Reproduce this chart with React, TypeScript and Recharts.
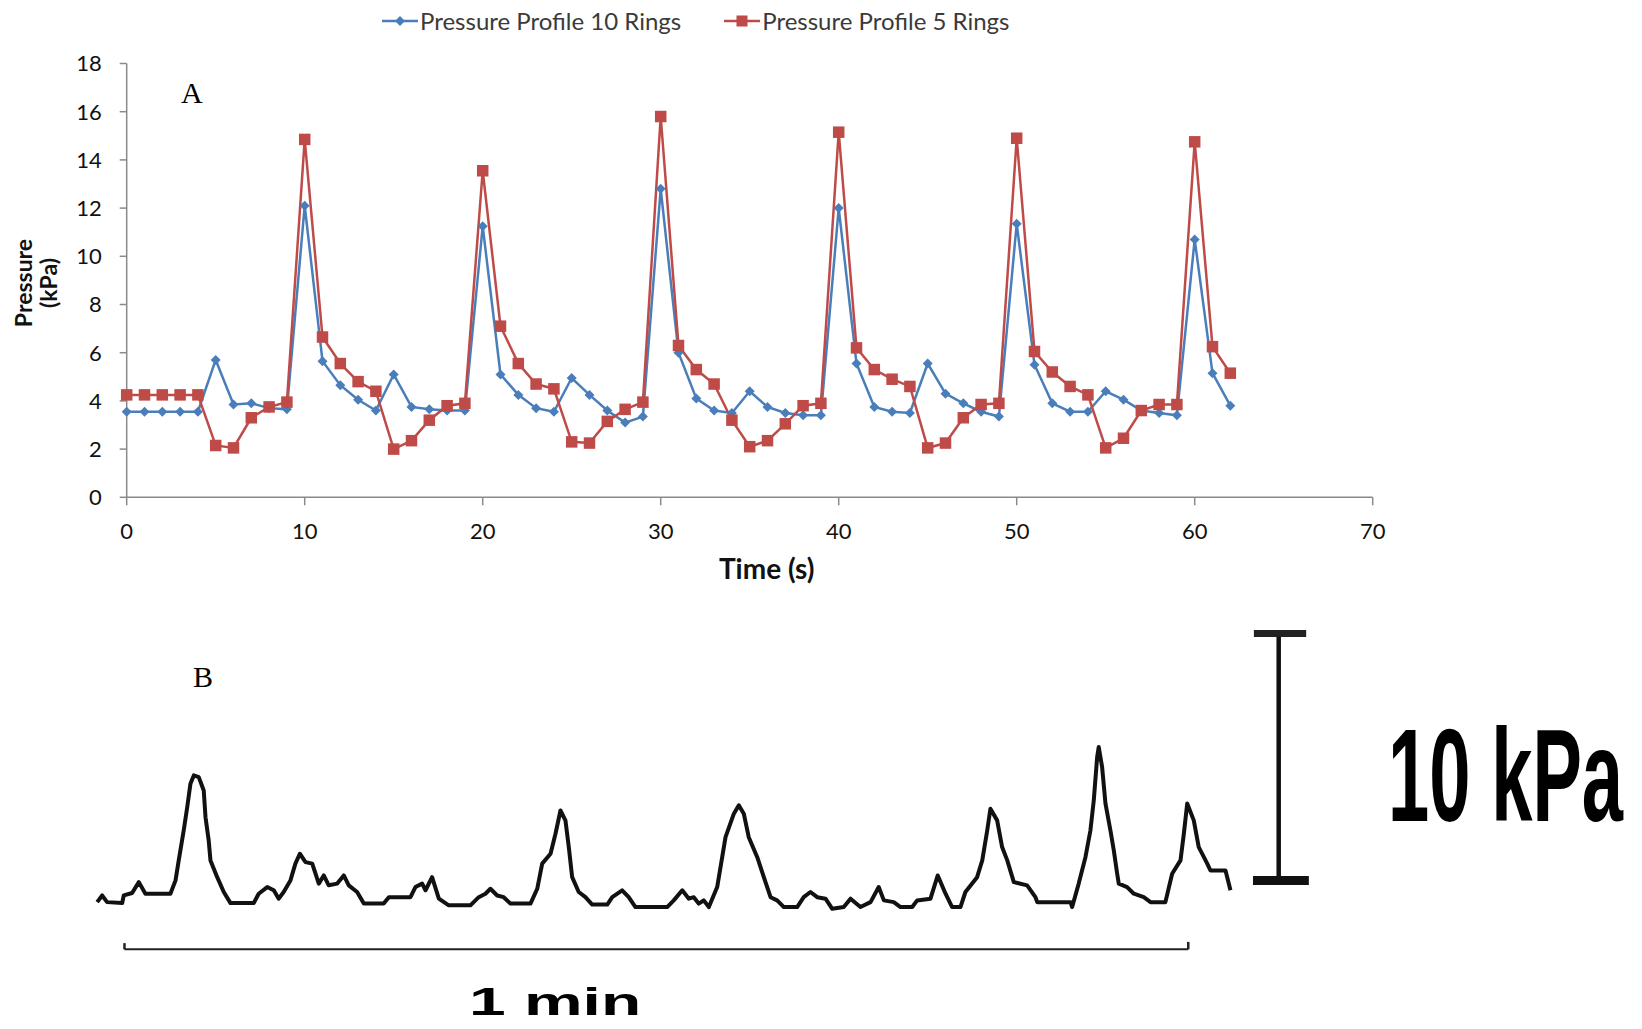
import React from "react";
import { LineChart, Line, XAxis, YAxis, Label, ReferenceLine } from "recharts";

// ---- panel A : pressure profiles (s, kPa)
const TIME_S = [
  0, 1, 2, 3, 4, 5, 6, 7, 8, 9, 10, 11, 12, 13, 14, 15, 16, 17, 18, 19, 20,
  21, 22, 23, 24, 25, 26, 27, 28, 29, 30, 31, 32, 33, 34, 35, 36, 37, 38, 39,
  40, 41, 42, 43, 44, 45, 46, 47, 48, 49, 50, 51, 52, 53, 54, 55, 56, 57, 58,
  59, 60, 61, 62,
];
const RINGS_10 = [
  3.55, 3.55, 3.55, 3.55, 3.55, 5.7, 3.85, 3.9, 3.7, 3.65, 12.1, 5.65, 4.65,
  4.05, 3.6, 5.1, 3.75, 3.65, 3.6, 3.6, 11.25, 5.1, 4.25, 3.7, 3.55, 4.95, 4.25,
  3.6, 3.1, 3.35, 12.8, 6.0, 4.1, 3.6, 3.5, 4.4, 3.75, 3.5, 3.4, 3.4, 12.0,
  5.55, 3.75, 3.55, 3.5, 5.55, 4.3, 3.9, 3.55, 3.35, 11.35, 5.5, 3.9, 3.55,
  3.55, 4.4, 4.05, 3.6, 3.5, 3.4, 10.7, 5.15, 3.8,
];
const RINGS_5 = [
  4.25, 4.25, 4.25, 4.25, 4.25, 2.15, 2.05, 3.3, 3.75, 3.95, 14.85, 6.65, 5.55,
  4.8, 4.4, 2.0, 2.35, 3.2, 3.8, 3.9, 13.55, 7.1, 5.55, 4.7, 4.5, 2.3, 2.25,
  3.15, 3.65, 3.95, 15.8, 6.3, 5.3, 4.7, 3.2, 2.1, 2.35, 3.05, 3.8, 3.9, 15.15,
  6.2, 5.3, 4.9, 4.6, 2.05, 2.25, 3.3, 3.85, 3.9, 14.9, 6.05, 5.2, 4.6, 4.25,
  2.05, 2.45, 3.6, 3.85, 3.85, 14.75, 6.25, 5.15,
];
const X_TICKS = [0, 10, 20, 30, 40, 50, 60, 70];
const Y_TICKS = [0, 2, 4, 6, 8, 10, 12, 14, 16, 18];

// ---- panel B : recorded trace (s from start of the 1 min bar, kPa above bar base)
const TRACE_T = [
  -1.54, -1.26, -0.98, -0.13, -0.04, 0.43, 0.81, 1.18, 2.59, 2.88, 3.06, 3.34,
  3.54, 3.72, 3.91, 4.19, 4.47, 4.57, 4.75, 4.85, 5.23, 5.6, 5.98, 7.29, 7.57,
  8.05, 8.42, 8.7, 8.98, 9.36, 9.64, 9.89, 10.21, 10.59, 10.96, 11.24, 11.52,
  12.0, 12.37, 12.65, 13.12, 13.5, 14.62, 14.91, 16.13, 16.41, 16.79, 16.98,
  17.35, 17.73, 18.29, 19.51, 19.98, 20.36, 20.64, 21.02, 21.39, 21.77, 22.9,
  23.28, 23.56, 24.03, 24.31, 24.59, 24.87, 25.06, 25.25, 25.62, 26.0, 26.38,
  27.23, 27.51, 28.07, 28.44, 28.82, 30.61, 30.98, 31.46, 31.83, 32.11, 32.39,
  32.67, 32.96, 33.43, 33.9, 34.37, 34.65, 34.93, 35.21, 35.69, 36.06, 36.44,
  36.81, 37.19, 37.94, 38.31, 38.69, 39.07, 39.54, 39.92, 40.57, 40.95, 41.51,
  42.08, 42.54, 42.83, 43.39, 43.77, 44.43, 44.71, 45.46, 45.87, 46.31, 46.68,
  47.15, 47.43, 48.09, 48.38, 48.66, 48.84, 49.22, 49.5, 49.79, 50.16, 50.91,
  51.38, 51.48, 53.36, 53.45, 53.82, 54.2, 54.48, 54.67, 54.86, 54.95, 55.14,
  55.33, 55.61, 55.8, 55.99, 56.08, 56.55, 56.93, 57.49, 57.87, 58.71, 59.09,
  59.56, 59.75, 59.94, 60.31, 60.59, 61.07, 61.25, 62.1, 62.38,
];
const TRACE_KPA = [
  -0.88, -0.61, -0.88, -0.92, -0.61, -0.51, -0.07, -0.54, -0.54, 0, 0.81, 2.02,
  2.97, 3.91, 4.25, 4.18, 3.64, 2.56, 1.62, 0.81, 0.13, -0.47, -0.92, -0.92,
  -0.54, -0.27, -0.4, -0.74, -0.47, 0, 0.68, 1.08, 0.74, 0.68, -0.13, 0.2, -0.2,
  -0.13, 0.2, -0.2, -0.47, -0.94, -0.94, -0.68, -0.68, -0.27, -0.13, -0.4, 0.13,
  -0.74, -1.01, -1.01, -0.68, -0.54, -0.34, -0.61, -0.68, -0.94, -0.94, -0.34,
  0.68, 1.08, 1.89, 2.83, 2.43, 1.35, 0.13, -0.47, -0.68, -0.98, -0.98, -0.68,
  -0.4, -0.68, -1.08, -1.08, -0.81, -0.4, -0.74, -0.68, -0.94, -0.81, -1.08,
  -0.27, 1.75, 2.7, 3.04, 2.7, 1.75, 0.94, 0.13, -0.68, -0.81, -1.08, -1.08,
  -0.68, -0.47, -0.68, -0.74, -1.15, -1.08, -0.74, -1.08, -0.88, -0.27, -0.81,
  -0.88, -1.08, -1.08, -0.81, -0.74, 0.2, -0.54, -1.08, -1.08, -0.47, 0.13,
  0.81, 2.02, 2.9, 2.43, 1.35, 0.81, -0.07, -0.2, -0.68, -0.88, -0.88, -1.08,
  -0.13, 0.94, 2.02, 3.24, 4.99, 5.4, 4.59, 3.11, 2.02, 1.21, 0.27, -0.13,
  -0.27, -0.54, -0.68, -0.88, -0.88, 0.27, 0.81, 1.89, 3.11, 2.43, 1.35, 0.68,
  0.4, 0.4, -0.4,
];
const MIN_BAR = [0, 60]; // 1 min
const MIN_BAR_LEVEL = -2.79;
const KPA_BAR = [0, 10]; // 10 kPa
const KPA_BAR_AT = 65.1;

const BLUE = "#4a7ebb";
const RED = "#be4b48";
const AXIS = "#8a8a8a";

const topData = TIME_S.map((t, i) => ({ t, r10: RINGS_10[i], r5: RINGS_5[i] }));
const traceData = TRACE_T.map((t, i) => ({ t, p: TRACE_KPA[i] }));

function DiamondDot(props: any) {
  const { cx, cy, index } = props;
  if (cx == null || cy == null) return <g key={`d${index}`} />;
  const r = 5;
  return (
    <path
      key={`d${index}`}
      d={`M${cx} ${cy - r}L${cx + r} ${cy}L${cx} ${cy + r}L${cx - r} ${cy}Z`}
      fill={BLUE}
    />
  );
}

function SquareDot(props: any) {
  const { cx, cy, index } = props;
  if (cx == null || cy == null) return <g key={`s${index}`} />;
  const s = 11.5;
  return <rect key={`s${index}`} x={cx - s / 2} y={cy - s / 2} width={s} height={s} fill={RED} />;
}

const tickFont = { fill: "#111", fontSize: 22, fontFamily: "Lato" };

export default function App() {
  return (
    <div style={{ position: "absolute", left: 0, top: 0, width: 1642, height: 1029, background: "#fff", overflow: "hidden" }}>
      {/* legend */}
      <div style={{ position: "absolute", left: 382, top: 6, display: "flex", alignItems: "center", fontFamily: "Lato", fontSize: 24, color: "#3a3a3a", whiteSpace: "nowrap" }}>
        <svg width={36} height={14} style={{ marginRight: 2 }}>
          <line x1={0} y1={7} x2={36} y2={7} stroke={BLUE} strokeWidth={2.5} />
          <path d="M18 2L23 7L18 12L13 7Z" fill={BLUE} />
        </svg>
        <span>Pressure Profile 10 Rings</span>
        <svg width={36} height={14} style={{ marginLeft: 43, marginRight: 2 }}>
          <line x1={0} y1={7} x2={36} y2={7} stroke={RED} strokeWidth={2.5} />
          <rect x={12.5} y={1.5} width={11} height={11} fill={RED} />
        </svg>
        <span>Pressure Profile 5 Rings</span>
      </div>

      {/* y title */}
      <div style={{ position: "absolute", left: 36 - 70, top: 283 - 25, width: 140, height: 50, textAlign: "center", lineHeight: "25px", fontFamily: "Lato", fontWeight: 700, fontSize: 23, color: "#111", transform: "rotate(-90deg)" }}>
        Pressure
        <br />
        (kPa)
      </div>

      <div style={{ position: "absolute", left: 181, top: 78, fontFamily: "Liberation Serif", fontSize: 30, lineHeight: "30px", color: "#000" }}>A</div>
      <div style={{ position: "absolute", left: 193, top: 662, fontFamily: "Liberation Serif", fontSize: 30, lineHeight: "30px", color: "#000" }}>B</div>

      <div style={{ position: "absolute", left: 0, top: 0 }}>
        <LineChart
          width={1400}
          height={600}
          data={topData}
          margin={{ top: 63.5, right: 27.3, bottom: 42.7, left: 66.7 }}
        >
          <XAxis
            dataKey="t"
            type="number"
            domain={[0, 70]}
            ticks={X_TICKS}
            height={60}
            tickSize={8}
            tickMargin={18}
            axisLine={{ stroke: AXIS, strokeWidth: 1.5 }}
            tickLine={{ stroke: AXIS, strokeWidth: 1.5 }}
            tick={tickFont}
          >
            <Label
              value="Time (s)"
              position="bottom"
              offset={2}
              dx={17}
              style={{ fontFamily: "Lato", fontWeight: 700, fontSize: 28, fill: "#111" }}
            />
          </XAxis>
          <YAxis
            type="number"
            domain={[0, 18]}
            ticks={Y_TICKS}
            width={60}
            tickSize={7}
            tickMargin={18}
            axisLine={{ stroke: AXIS, strokeWidth: 1.5 }}
            tickLine={{ stroke: AXIS, strokeWidth: 1.5 }}
            tick={tickFont}
          />
          <Line
            dataKey="r10"
            stroke={BLUE}
            strokeWidth={2.5}
            type="linear"
            dot={DiamondDot}
            activeDot={false}
            isAnimationActive={false}
          />
          <Line
            dataKey="r5"
            stroke={RED}
            strokeWidth={2.5}
            type="linear"
            dot={SquareDot}
            activeDot={false}
            isAnimationActive={false}
          />
        </LineChart>
      </div>

      <div style={{ position: "absolute", left: 88.5, top: 583.6 }}>
        <LineChart
          width={1276.6}
          height={395.2}
          data={traceData}
          margin={{ top: 0, right: 0, bottom: 0, left: 0 }}
        >
          <XAxis dataKey="t" type="number" domain={[-2, 70]} hide />
          <YAxis type="number" domain={[-4, 12]} hide />
          <Line
            dataKey="p"
            stroke="#111"
            strokeWidth={4}
            strokeLinejoin="round"
            type="linear"
            dot={false}
            activeDot={false}
            isAnimationActive={false}
          />
          {/* 1 min bar */}
          <ReferenceLine
            segment={[{ x: MIN_BAR[0], y: MIN_BAR_LEVEL }, { x: MIN_BAR[1], y: MIN_BAR_LEVEL }]}
            stroke="#222"
            strokeWidth={2}
            ifOverflow="visible"
          />
          <ReferenceLine
            segment={[{ x: MIN_BAR[0], y: MIN_BAR_LEVEL }, { x: MIN_BAR[0], y: MIN_BAR_LEVEL + 0.25 }]}
            stroke="#222"
            strokeWidth={2.5}
            ifOverflow="visible"
          />
          <ReferenceLine
            segment={[{ x: MIN_BAR[1], y: MIN_BAR_LEVEL }, { x: MIN_BAR[1], y: MIN_BAR_LEVEL + 0.3 }]}
            stroke="#222"
            strokeWidth={2.5}
            ifOverflow="visible"
          />
          {/* 10 kPa bar */}
          <ReferenceLine
            segment={[{ x: KPA_BAR_AT, y: KPA_BAR[0] }, { x: KPA_BAR_AT, y: KPA_BAR[1] }]}
            stroke="#111"
            strokeWidth={4.5}
            ifOverflow="visible"
          />
          <ReferenceLine
            segment={[{ x: KPA_BAR_AT - 1.4, y: KPA_BAR[1] }, { x: KPA_BAR_AT + 1.55, y: KPA_BAR[1] }]}
            stroke="#222"
            strokeWidth={7}
            ifOverflow="visible"
          />
          <ReferenceLine
            segment={[{ x: KPA_BAR_AT - 1.45, y: KPA_BAR[0] }, { x: KPA_BAR_AT + 1.7, y: KPA_BAR[0] }]}
            stroke="#111"
            strokeWidth={9}
            ifOverflow="visible"
          />
        </LineChart>
      </div>

      <div style={{ position: "absolute", left: 469, top: 982, fontFamily: "Liberation Sans", fontWeight: 700, fontSize: 39, lineHeight: "39px", color: "#000", transform: "scaleX(1.69)", transformOrigin: "left top", whiteSpace: "nowrap" }}>
        1 min
      </div>
      <div style={{ position: "absolute", left: 1388, top: 710, fontFamily: "Liberation Sans", fontWeight: 700, fontSize: 132, lineHeight: "132px", color: "#000", transform: "scaleX(0.562)", transformOrigin: "left top", whiteSpace: "nowrap" }}>
        10 kPa
      </div>
    </div>
  );
}
